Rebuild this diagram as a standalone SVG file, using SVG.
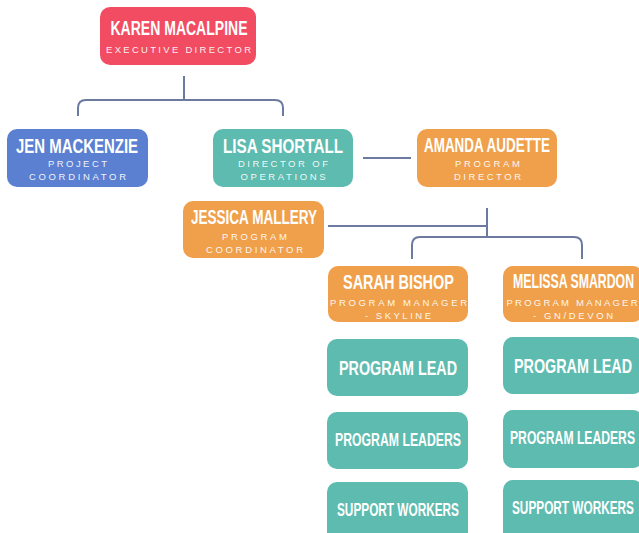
<svg xmlns="http://www.w3.org/2000/svg" width="639" height="533" viewBox="0 0 639 533">
<style>
.nm{font-family:"Liberation Sans",Arial,sans-serif;font-weight:700;fill:#fff;text-anchor:middle}
.sb{font-family:"Liberation Sans",Arial,sans-serif;font-size:9.5px;fill:#fff;fill-opacity:0.92;text-anchor:middle}
.ln{fill:none;stroke:#6b7a9e;stroke-width:2}
.red{fill:#f24c63}.blue{fill:#5b80d2}.teal{fill:#5dbbaf}.orange{fill:#f0a04b}
</style>
<rect width="639" height="533" fill="#fff"/>
<g id="connectors">
<path class="ln" d="M184 76V100"/>
<path class="ln" d="M78 116V108Q78 100 86 100H275Q283 100 283 108V116"/>
<path class="ln" d="M363 158H411"/>
<path class="ln" d="M328 226H487"/>
<path class="ln" d="M487 208V237"/>
<path class="ln" d="M412 259V245Q412 237 420 237H574Q582 237 582 245V259"/>
</g>
<g id="karen">
<rect class="red" x="100" y="7" width="156" height="58" rx="10"/>
<text class="nm" x="179" y="35" font-size="20" textLength="137" lengthAdjust="spacingAndGlyphs">KAREN MACALPINE</text>
<text class="sb" x="178.5" y="53" textLength="145" lengthAdjust="spacing">EXECUTIVE DIRECTOR</text>
</g>
<g id="jen">
<rect class="blue" x="7" y="129" width="141" height="58" rx="10"/>
<text class="nm" x="77" y="153" font-size="20" textLength="122" lengthAdjust="spacingAndGlyphs">JEN MACKENZIE</text>
<text class="sb" x="77.5" y="167" textLength="59" lengthAdjust="spacing">PROJECT</text>
<text class="sb" x="77.5" y="180" textLength="97" lengthAdjust="spacing">COORDINATOR</text>
</g>
<g id="lisa">
<rect class="teal" x="213" y="129" width="140" height="58" rx="10"/>
<text class="nm" x="283" y="153" font-size="20" textLength="120" lengthAdjust="spacingAndGlyphs">LISA SHORTALL</text>
<text class="sb" x="283" y="167" textLength="90" lengthAdjust="spacing">DIRECTOR OF</text>
<text class="sb" x="283" y="180" textLength="85" lengthAdjust="spacing">OPERATIONS</text>
</g>
<g id="amanda">
<rect class="orange" x="417" y="129" width="140" height="58" rx="10"/>
<text class="nm" x="487" y="152" font-size="20" textLength="126" lengthAdjust="spacingAndGlyphs">AMANDA AUDETTE</text>
<text class="sb" x="487.5" y="167" textLength="65" lengthAdjust="spacing">PROGRAM</text>
<text class="sb" x="487.5" y="180" textLength="67" lengthAdjust="spacing">DIRECTOR</text>
</g>
<g id="jessica">
<rect class="orange" x="183" y="201" width="141" height="57" rx="10"/>
<text class="nm" x="254" y="224" font-size="20" textLength="126" lengthAdjust="spacingAndGlyphs">JESSICA MALLERY</text>
<text class="sb" x="254.5" y="240" textLength="65" lengthAdjust="spacing">PROGRAM</text>
<text class="sb" x="254.5" y="253" textLength="97" lengthAdjust="spacing">COORDINATOR</text>
</g>
<g id="sarah">
<rect class="orange" x="328" y="266" width="140" height="56" rx="10"/>
<text class="nm" x="398.5" y="289" font-size="20" textLength="111" lengthAdjust="spacingAndGlyphs">SARAH BISHOP</text>
<text class="sb" x="398.5" y="306" textLength="137" lengthAdjust="spacing">PROGRAM MANAGER</text>
<text class="sb" x="398" y="319" textLength="66" lengthAdjust="spacing">- SKYLINE</text>
</g>
<g id="melissa">
<rect class="orange" x="503" y="266" width="140" height="56" rx="10"/>
<text class="nm" x="573.5" y="288" font-size="20" textLength="121" lengthAdjust="spacingAndGlyphs">MELISSA SMARDON</text>
<text class="sb" x="572" y="306" textLength="131" lengthAdjust="spacing">PROGRAM MANAGER</text>
<text class="sb" x="573" y="319" textLength="80" lengthAdjust="spacing">- GN/DEVON</text>
</g>
<g id="lead-left">
<rect class="teal" x="327" y="339" width="141" height="57" rx="10"/>
<text class="nm" x="398" y="375" font-size="21" textLength="118" lengthAdjust="spacingAndGlyphs">PROGRAM LEAD</text>
</g>
<g id="leaders-left">
<rect class="teal" x="327" y="412" width="141" height="57" rx="10"/>
<text class="nm" x="398" y="446" font-size="18" textLength="126" lengthAdjust="spacingAndGlyphs">PROGRAM LEADERS</text>
</g>
<g id="support-left">
<rect class="teal" x="327" y="482" width="141" height="60" rx="10"/>
<text class="nm" x="398" y="516" font-size="17.5" textLength="122" lengthAdjust="spacingAndGlyphs">SUPPORT WORKERS</text>
</g>
<g id="lead-right">
<rect class="teal" x="503" y="337" width="140" height="57" rx="10"/>
<text class="nm" x="573" y="373" font-size="21" textLength="118" lengthAdjust="spacingAndGlyphs">PROGRAM LEAD</text>
</g>
<g id="leaders-right">
<rect class="teal" x="503" y="410" width="140" height="58" rx="10"/>
<text class="nm" x="572.5" y="444" font-size="18" textLength="125" lengthAdjust="spacingAndGlyphs">PROGRAM LEADERS</text>
</g>
<g id="support-right">
<rect class="teal" x="503" y="480" width="140" height="62" rx="10"/>
<text class="nm" x="573" y="514" font-size="17.5" textLength="122" lengthAdjust="spacingAndGlyphs">SUPPORT WORKERS</text>
</g>
</svg>
